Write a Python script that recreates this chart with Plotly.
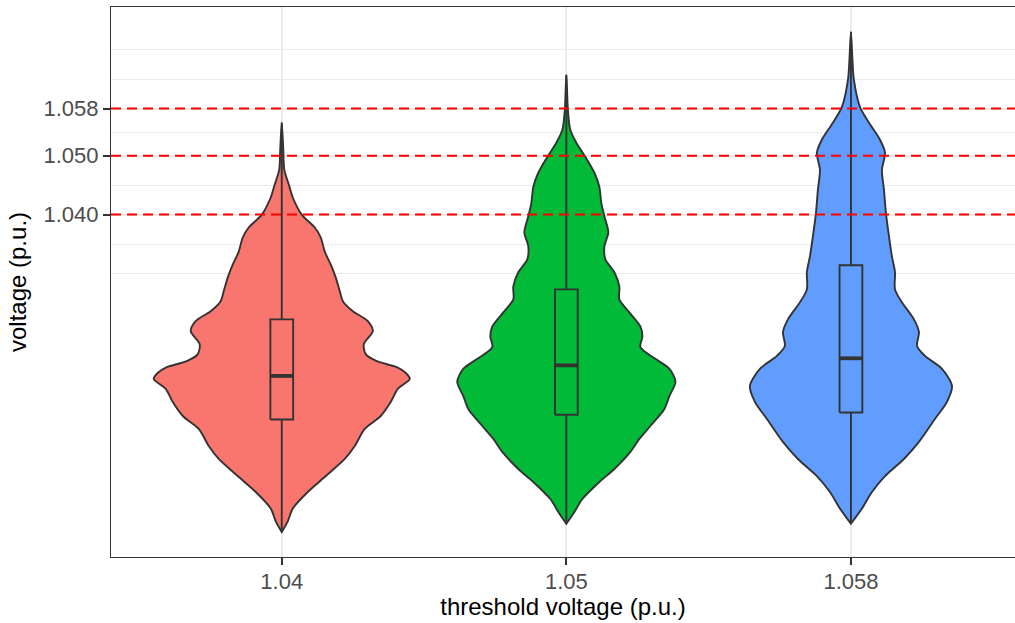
import plotly.graph_objects as go

# ---------------- data ----------------
categories = ["1.04", "1.05", "1.058"]
fill_colors = ["#F8766D", "#00BA38", "#619CFF"]

# violin outlines: voltage levels (top -> bottom) and relative density (max = 1)
v1_voltage = [1.0556, 1.0510, 1.0476, 1.0451, 1.0429, 1.0400, 1.0378, 1.0361, 1.0337, 1.0315,
              1.0293, 1.0270, 1.0253, 1.0236, 1.0219, 1.0202, 1.0180, 1.0163, 1.0151, 1.0141,
              1.0131, 1.0121, 1.0104, 1.0082, 1.0058, 1.0036, 1.0007, 0.9985, 0.9956, 0.9929,
              0.9901, 0.9879, 0.9861]
v1_density = [0.000, 0.012, 0.020, 0.055, 0.086, 0.156, 0.258, 0.305, 0.336, 0.383,
              0.422, 0.453, 0.477, 0.555, 0.672, 0.711, 0.641, 0.656, 0.742, 0.898,
              0.969, 1.000, 0.906, 0.852, 0.773, 0.648, 0.570, 0.492, 0.344, 0.203,
              0.086, 0.047, 0.000]

v2_voltage = [1.0637, 1.0578, 1.0544, 1.0522, 1.0498, 1.0471, 1.0447, 1.0420, 1.0397, 1.0370,
              1.0346, 1.0324, 1.0302, 1.0278, 1.0256, 1.0234, 1.0210, 1.0193, 1.0175, 1.0155,
              1.0138, 1.0116, 1.0092, 1.0070, 1.0041, 1.0019, 0.9997, 0.9968, 0.9946, 0.9917,
              0.9895, 0.9875]
v2_density = [0.000, 0.012, 0.031, 0.078, 0.148, 0.219, 0.258, 0.273, 0.297, 0.328,
              0.297, 0.305, 0.375, 0.414, 0.414, 0.492, 0.578, 0.594, 0.578, 0.695,
              0.805, 0.852, 0.805, 0.766, 0.656, 0.570, 0.500, 0.375, 0.258, 0.125,
              0.063, 0.000]

v3_voltage = [1.0710, 1.0662, 1.0629, 1.0583, 1.0556, 1.0527, 1.0505, 1.0476, 1.0442, 1.0403,
              1.0363, 1.0329, 1.0302, 1.0273, 1.0251, 1.0222, 1.0200, 1.0177, 1.0160, 1.0138,
              1.0109, 1.0082, 1.0053, 1.0014, 0.9985, 0.9956, 0.9929, 0.9901, 0.9875]
v3_density = [0.000, 0.012, 0.023, 0.070, 0.141, 0.227, 0.266, 0.242, 0.258, 0.273,
              0.297, 0.320, 0.344, 0.344, 0.398, 0.492, 0.531, 0.516, 0.578, 0.711,
              0.789, 0.750, 0.656, 0.531, 0.414, 0.266, 0.164, 0.086, 0.000]

# box-plot statistics
box_min = [0.9861, 0.9875, 0.9875]
box_q1 = [1.0052, 1.0060, 1.0064]
box_median = [1.0126, 1.0144, 1.0156]
box_q3 = [1.0222, 1.0273, 1.0314]
box_max = [1.0556, 1.0637, 1.0710]

threshold_lines = [1.040, 1.050, 1.058]
y_tick_vals = [1.040, 1.050, 1.058]
y_tick_text = ["1.040", "1.050", "1.058"]

# ---------------- styling constants ----------------
VIOLIN_HALF = 0.45
BOX_WIDTH = 0.08
OUTLINE = "#333333"
FONT = "Liberation Sans, Arial, sans-serif"

violins = [(v1_voltage, v1_density), (v2_voltage, v2_density), (v3_voltage, v3_density)]
positions = [1, 2, 3]

fig = go.Figure()

# violins
for pos, (volt, dens), col in zip(positions, violins, fill_colors):
    right_x = [pos + VIOLIN_HALF * d for d in dens]
    left_x = [pos - VIOLIN_HALF * d for d in reversed(dens)]
    xs = right_x + left_x
    ys = list(volt) + list(reversed(volt))
    fig.add_trace(go.Scatter(
        x=xs, y=ys, mode="lines", fill="toself", fillcolor=col,
        line=dict(color=OUTLINE, width=1.9, shape="spline", smoothing=0.8),
        hoverinfo="skip", showlegend=False))

# box plots (drawn as scatter paths so they sit above the violins)
for i, (pos, col) in enumerate(zip(positions, fill_colors)):
    hw = BOX_WIDTH / 2
    fig.add_trace(go.Scatter(
        x=[pos, pos, None, pos, pos],
        y=[box_q3[i], box_max[i], None, box_q1[i], box_min[i]],
        mode="lines", line=dict(color=OUTLINE, width=1.9),
        showlegend=False, hoverinfo="skip"))
    fig.add_trace(go.Scatter(
        x=[pos - hw, pos + hw, pos + hw, pos - hw, pos - hw],
        y=[box_q1[i], box_q1[i], box_q3[i], box_q3[i], box_q1[i]],
        mode="lines", fill="toself", fillcolor=col,
        line=dict(color=OUTLINE, width=1.9),
        showlegend=False, hoverinfo="skip"))
    fig.add_trace(go.Scatter(
        x=[pos - hw, pos + hw], y=[box_median[i], box_median[i]],
        mode="lines", line=dict(color=OUTLINE, width=3.8),
        showlegend=False, hoverinfo="skip"))

for v in threshold_lines:
    fig.add_shape(type="line", xref="paper", x0=0, x1=1, yref="y", y0=v, y1=v,
                  line=dict(color="red", width=2, dash="10px,6px"), layer="above")

# ggplot-like limits and minor breaks
lo, hi = min(box_min), max(box_max)
pad = 0.05 * (hi - lo)
step = y_tick_vals[1] - y_tick_vals[0]
ext = [y_tick_vals[0] - step] + y_tick_vals + [y_tick_vals[-1] + step]
minor_vals = [ext[0], ext[-1]] + [(a + b) / 2 for a, b in zip(ext[:-1], ext[1:])]

fig.update_layout(
    width=1015, height=623,
    margin=dict(l=111, r=0, t=7, b=66),
    paper_bgcolor="white", plot_bgcolor="white",
    font=dict(family=FONT),
    showlegend=False,
    xaxis=dict(
        range=[0.4, 3.5765], tickmode="array", tickvals=positions, ticktext=categories,
        showgrid=True, gridcolor="#EBEBEB", gridwidth=1.5, zeroline=False,
        showline=True, linecolor=OUTLINE, linewidth=1.2, mirror=True,
        ticks="outside", ticklen=7, tickcolor=OUTLINE, tickwidth=1.5,
        ticklabelstandoff=-3,
        tickfont=dict(size=22, color="#4D4D4D", family=FONT),
        title=dict(text="threshold voltage (p.u.)", font=dict(size=24, color="black", family=FONT),
                   standoff=3),
    ),
    yaxis=dict(
        range=[lo - pad, hi + pad], tickmode="array", tickvals=y_tick_vals, ticktext=y_tick_text,
        showgrid=True, gridcolor="#EBEBEB", gridwidth=1.5, zeroline=False,
        minor=dict(tickmode="array", tickvals=minor_vals, showgrid=True,
                   gridcolor="#EBEBEB", gridwidth=1, ticks=""),
        showline=True, linecolor=OUTLINE, linewidth=1.2, mirror=False,
        ticks="outside", ticklen=7, tickcolor=OUTLINE, tickwidth=1.5,
        tickfont=dict(size=22, color="#4D4D4D", family=FONT),
        title=dict(text="voltage (p.u.)", font=dict(size=24, color="black", family=FONT),
                   standoff=10),
    ),
)

fig.write_html("out.html")
